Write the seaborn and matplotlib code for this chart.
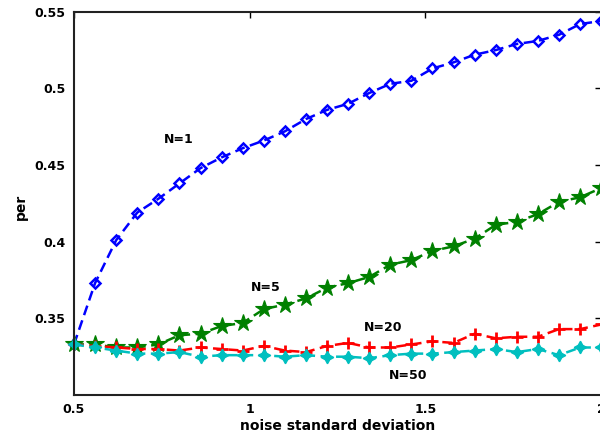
import matplotlib
matplotlib.use("Agg")
import matplotlib.pyplot as plt
import seaborn as sns
import numpy as np

sigma = [0.50, 0.56, 0.62, 0.68, 0.74, 0.80, 0.86, 0.92, 0.98, 1.04, 1.10, 1.16, 1.22,
         1.28, 1.34, 1.40, 1.46, 1.52, 1.58, 1.64, 1.70, 1.76, 1.82, 1.88, 1.94, 2.00]

per_n1 = [0.333, 0.373, 0.401, 0.419, 0.428, 0.438, 0.448, 0.455, 0.461, 0.466, 0.472,
          0.480, 0.486, 0.490, 0.497, 0.503, 0.505, 0.513, 0.517, 0.522, 0.525, 0.529,
          0.531, 0.535, 0.542, 0.544]
per_n5 = [0.333, 0.333, 0.331, 0.331, 0.333, 0.339, 0.340, 0.345, 0.347, 0.356, 0.359,
          0.363, 0.370, 0.373, 0.377, 0.385, 0.388, 0.394, 0.397, 0.402, 0.411, 0.413,
          0.418, 0.426, 0.429, 0.435]
per_n20 = [0.333, 0.332, 0.331, 0.330, 0.330, 0.329, 0.331, 0.330, 0.329, 0.332, 0.329,
           0.328, 0.332, 0.334, 0.331, 0.331, 0.333, 0.335, 0.334, 0.340, 0.337, 0.338,
           0.338, 0.343, 0.343, 0.346]
per_n50 = [0.333, 0.331, 0.329, 0.327, 0.327, 0.328, 0.325, 0.326, 0.326, 0.326, 0.325,
           0.326, 0.325, 0.325, 0.324, 0.326, 0.327, 0.327, 0.328, 0.329, 0.330, 0.328,
           0.330, 0.326, 0.331, 0.331]

labels = ["N=1", "N=5", "N=20", "N=50"]
label_pos = [(0.797, 0.467), (1.046, 0.370), (1.38, 0.3438), (1.451, 0.313)]

x_ticks = [0.5, 1.0, 1.5, 2.0]
x_ticklabels = ["0.5", "1", "1.5", "2"]
y_ticks = [0.35, 0.40, 0.45, 0.50, 0.55]
y_ticklabels = ["0.35", "0.4", "0.45", "0.5", "0.55"]

sns.set_style("white")
plt.rcParams["font.family"] = ["DejaVu Sans"]
plt.rcParams["text.color"] = "black"
plt.rcParams["axes.labelcolor"] = "black"

fig = plt.figure(figsize=(6.0, 4.36), dpi=100)
ax = fig.add_axes([0.1233, 0.094, 0.8787, 0.879])

styles = [
    dict(color=(0, 0, 1), marker="D", markersize=5.5, markerfacecolor="none",
         markeredgecolor=(0, 0, 1), markeredgewidth=1.8),
    dict(color=(0, 0.5, 0), marker="*", markersize=13, markerfacecolor=(0, 0.5, 0),
         markeredgecolor=(0, 0.5, 0), markeredgewidth=0.8),
    dict(color=(1, 0, 0), marker="+", markersize=9, markeredgecolor=(1, 0, 0),
         markeredgewidth=2.0),
    dict(color=(0, 0.75, 0.75), marker=(4, 1, 0), markersize=9,
         markerfacecolor=(0, 0.75, 0.75), markeredgecolor=(0, 0.75, 0.75),
         markeredgewidth=1.0),
]
for ys, st in zip([per_n1, per_n5, per_n20, per_n50], styles):
    sns.lineplot(x=sigma, y=ys, ax=ax, linewidth=1.8, clip_on=False, **st)
    ax.lines[-1].set_linestyle((0, (4, 2.2)))

for txt, (tx, ty) in zip(labels, label_pos):
    ax.text(tx, ty, txt, fontsize=9, fontweight="bold", ha="center", va="center")

ax.set_xlim(0.5, 2.0)
ax.set_ylim(0.30, 0.55)
ax.set_xticks(x_ticks)
ax.set_xticklabels(x_ticklabels)
ax.set_yticks(y_ticks)
ax.set_yticklabels(y_ticklabels)
ax.tick_params(direction="in", length=4, width=1, top=True, right=True,
               labelsize=9, pad=6, colors="black")
for lbl in ax.get_xticklabels() + ax.get_yticklabels():
    lbl.set_fontweight("bold")
for sp in ax.spines.values():
    sp.set_linewidth(1.5)
    sp.set_color("#222222")

ax.set_xlabel("noise standard deviation", fontsize=10, fontweight="bold", labelpad=2)
ax.set_ylabel("per", fontsize=10, fontweight="bold")
ax.yaxis.set_label_coords(-0.087, 0.49)

fig.savefig("out.png", dpi=100)
